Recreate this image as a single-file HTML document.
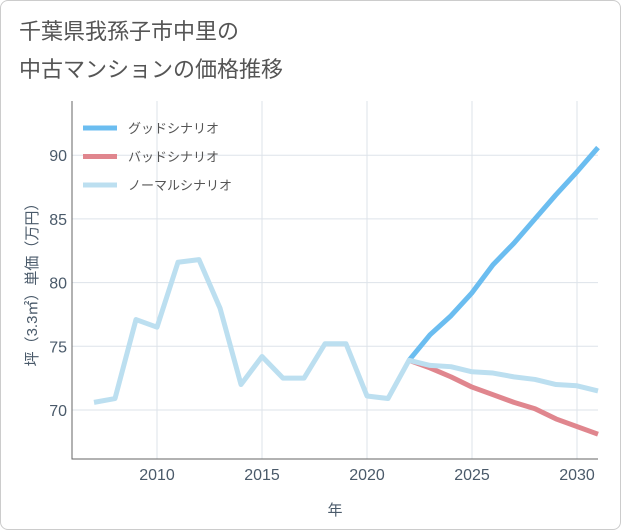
<!DOCTYPE html>
<html><head><meta charset="utf-8"><style>
body{margin:0;background:#fff;font-family:"Liberation Sans","Noto Sans CJK JP",sans-serif}
#wrap{position:relative;width:619px;height:528px;border:1px solid #ccc;border-radius:8px;overflow:hidden;background:#fff}
svg text{font-family:"Liberation Sans","Noto Sans CJK JP",sans-serif}
</style></head><body>
<div id="wrap">
<svg id="chart" width="621" height="530">
<text x="18" y="38" font-size="22" fill="#555">千葉県我孫子市中里の</text>
<text x="18" y="76" font-size="22" fill="#555">中古マンションの価格推移</text>
<g id="grid"></g><g id="series"></g><g id="axes"></g>
<g id="legend"></g>
<text x="0" y="0" font-size="15" fill="#4a5a6a" transform="translate(36,280) rotate(-90)" text-anchor="middle">坪（3.3㎡）単価（万円）</text>
<text x="334" y="514" font-size="15" fill="#4a5a6a" text-anchor="middle">年</text>
</svg></div>
<script>
const years=[2007,2008,2009,2010,2011,2012,2013,2014,2015,2016,2017,2018,2019,2020,2021,2022,2023,2024,2025,2026,2027,2028,2029,2030,2031];
const normal=[70.6,70.9,77.1,76.5,81.6,81.8,78,72,74.2,72.5,72.5,75.2,75.2,71.1,70.9,73.9,73.5,73.4,73.0,72.9,72.6,72.4,72.0,71.9,71.5];
const futureYears=[2022,2023,2024,2025,2026,2027,2028,2029,2030,2031];
const good=[73.9,75.9,77.4,79.2,81.4,83.1,85.0,86.9,88.7,90.6];
const bad=[73.9,73.3,72.6,71.8,71.2,70.6,70.1,69.3,68.7,68.1];
const xTicks=[2010,2015,2020,2025,2030];
const yTicks=[70,75,80,85,90];
const NS='http://www.w3.org/2000/svg';
const L=71,R=597,T=100,B=458;
const x=v=>156+(v-2010)*21;
const y=v=>409-(v-70)*12.74;
function mk(tag,attrs,parent){const e=document.createElementNS(NS,tag);for(const k in attrs)e.setAttribute(k,attrs[k]);parent.appendChild(e);return e;}
const grid=document.getElementById('grid'),axes=document.getElementById('axes'),ser=document.getElementById('series'),leg=document.getElementById('legend');
for(const t of xTicks){
 const l=mk('line',{x1:x(t),x2:x(t),y1:T,y2:B,stroke:'#dde3ea'},grid);
 
 
 const tx=mk('text',{x:x(t),y:479,'font-size':16,fill:'#4a5a6a','text-anchor':'middle'},axes);
 tx.textContent=t;
 
 
}
for(const t of yTicks){
 const l=mk('line',{x1:L,x2:R,y1:y(t),y2:y(t),stroke:'#dde3ea'},grid);
 
 
 const tx=mk('text',{x:66,y:y(t)+6,'font-size':16,fill:'#4a5a6a','text-anchor':'end'},axes);
 tx.textContent=t;
 
 
}
const ax=mk('path',{d:`M${L},${T}V${B}H${R}`,stroke:'#666',fill:'none','stroke-width':1},axes);


function line(xs,ys,color,name){
 const d=xs.map((v,i)=>(i?'L':'M')+x(v)+','+y(ys[i])).join('');
 const p=mk('path',{d:d,stroke:color,fill:'none','stroke-width':5,'stroke-linejoin':'round'},ser);
 
 
}
line(futureYears,good,'#6bbdf0','good-scenario-line');
line(futureYears,bad,'#e0868e','bad-scenario-line');
line(years,normal,'#bcdff0','normal-scenario-line');
const items=[['グッドシナリオ','#6bbdf0','legend-good'],['バッドシナリオ','#e0868e','legend-bad'],['ノーマルシナリオ','#bcdff0','legend-normal']];
items.forEach((it,i)=>{
 const yy=127+i*28.5;
 const g=mk('g',{},leg);
 
 
 mk('line',{x1:82,x2:116,y1:yy,y2:yy,stroke:it[1],'stroke-width':5},g);
 const t=mk('text',{x:127,y:yy+5,'font-size':13,fill:'#555'},g);
 t.textContent=it[0];
});
</script>
</body></html>
